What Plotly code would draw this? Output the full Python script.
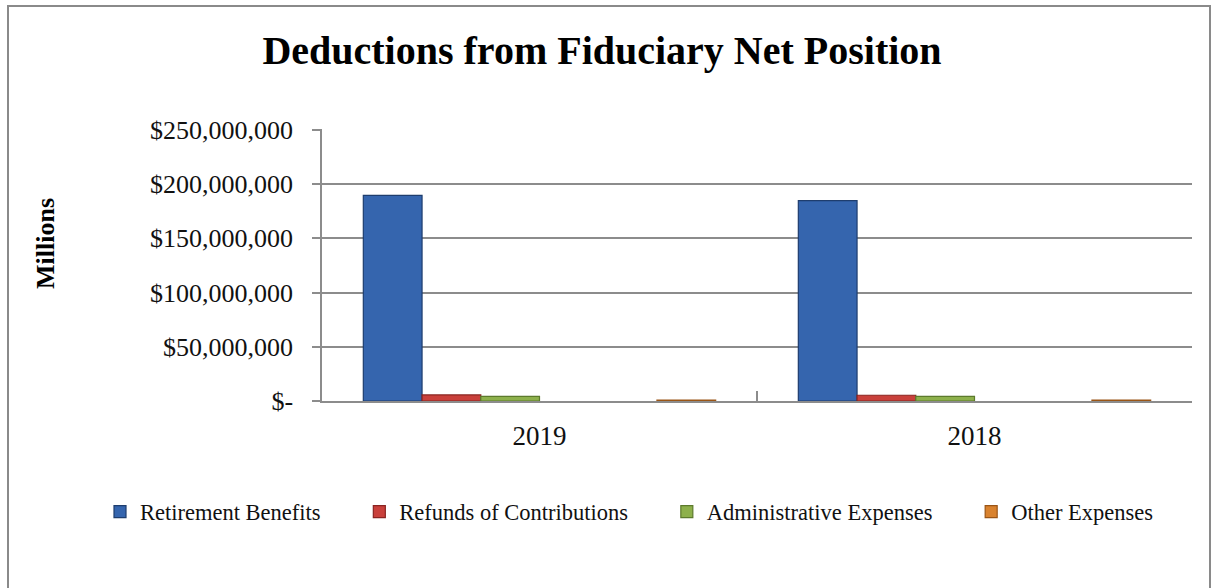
import plotly.graph_objects as go

categories = ["2019", "2018"]
series_names = ["Retirement Benefits", "Refunds of Contributions", "Administrative Expenses", "Other Expenses"]
retirement_benefits = [189500000, 184700000]
refunds_of_contributions = [5600000, 5300000]
administrative_expenses = [4300000, 4200000]
other_expenses = [900000, 800000]
empty_slot = [None, None]

y_tick_values = [0, 50000000, 100000000, 150000000, 200000000, 250000000]
y_tick_labels = ["$-", "$50,000,000", "$100,000,000", "$150,000,000", "$200,000,000", "$250,000,000"]

colors = ["#3565AE", "#C9403B", "#8DB04B", "#D9822E"]
edge = ["#1E3D6E", "#8A2421", "#5C7A2C", "#9A5516"]

FONT = "Liberation Serif"
PAD = "\u00a0" * 6  # spacing after legend entries

fig = go.Figure()
slots = [
    (series_names[0], retirement_benefits, 0),
    (series_names[1], refunds_of_contributions, 1),
    (series_names[2], administrative_expenses, 2),
    ("", empty_slot, None),
    (" ", empty_slot, None),
    (series_names[3], other_expenses, 3),
]
for name, vals, ci in slots:
    if ci is None:
        fig.add_trace(go.Bar(x=categories, y=vals, name=name, showlegend=False,
                             hoverinfo="skip", marker=dict(color="rgba(0,0,0,0)")))
    else:
        fig.add_trace(go.Bar(x=categories, y=vals, name=name + (PAD if ci < 3 else ""),
                             marker=dict(color=colors[ci], line=dict(color=edge[ci], width=1.2))))

fig.update_layout(
    width=1213, height=588,
    margin=dict(l=322, r=21, t=129, b=187, autoexpand=False),
    paper_bgcolor="white", plot_bgcolor="white",
    barmode="group", bargap=0.19, bargroupgap=0,
    font=dict(family=FONT, color="#111111"),
    title=dict(text="<b>Deductions from Fiduciary Net Position</b>",
               font=dict(family=FONT, size=40, color="#000000"),
               x=602 / 1213, xanchor="center", xref="container", y=0.915, yanchor="middle", yref="container"),
    legend=dict(orientation="h", xref="paper", x=(100 - 322) / 870, xanchor="left",
                y=(401 - 512) / 272, yanchor="middle",
                font=dict(family=FONT, size=22.5, color="#111111"),
                itemwidth=30, traceorder="normal"),
    showlegend=True,
    xaxis=dict(type="category", categoryorder="array", categoryarray=categories,
               showline=True, linecolor="#8c8c8c", linewidth=1.5,
               ticks="inside", tickson="boundaries", ticklen=10, tickcolor="#8c8c8c", tickwidth=1.5,
               tickfont=dict(family=FONT, size=27, color="#111111"), ticklabelstandoff=10,
               showgrid=False, zeroline=False),
    yaxis=dict(range=[0, 250000000 * 1.003], tickvals=y_tick_values, ticktext=y_tick_labels,
               showline=True, linecolor="#8c8c8c", linewidth=1.5,
               ticks="outside", ticklen=8, tickcolor="#8c8c8c", tickwidth=1.5,
               tickfont=dict(family=FONT, size=26, color="#111111"), ticklabelstandoff=14,
               showgrid=True, gridcolor="#8c8c8c", gridwidth=1.5, zeroline=False),
    annotations=[dict(text="<b>Millions</b>", xref="paper", yref="paper",
                      x=(45 - 322) / 870, y=(401 - 244) / 272, xanchor="center", yanchor="middle",
                      textangle=-90, showarrow=False,
                      font=dict(family=FONT, size=26, color="#000000"))],
)

fig.add_shape(type="rect", xref="paper", yref="paper",
              x0=(8 - 322) / 870, x1=(1210 - 322) / 870,
              y0=(401 - 600) / 272, y1=(401 - 6) / 272,
              line=dict(color="#8a8a8a", width=2), fillcolor="rgba(0,0,0,0)", layer="below")

fig.write_html("out.html", config={"displayModeBar": False},
               post_script="document.body.style.margin='0';document.body.style.overflow='hidden';")
